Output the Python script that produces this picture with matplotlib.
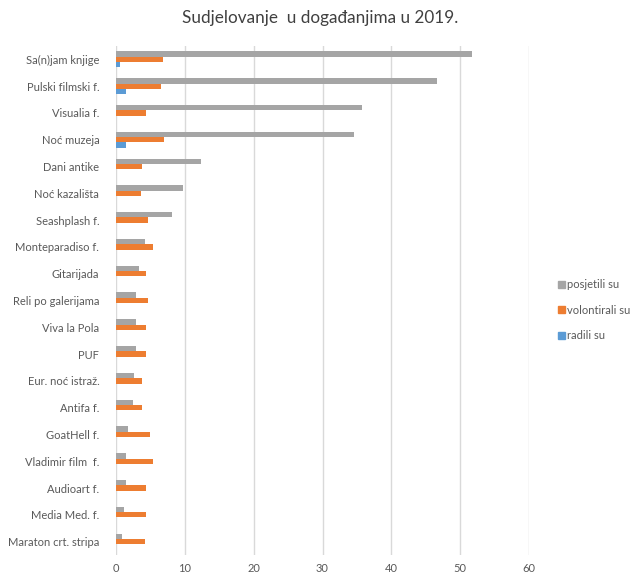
import numpy as np
import matplotlib.pyplot as plt
from matplotlib.patches import Patch

# kategorije (odozgo prema dolje)
dogadanja = ["Sa(n)jam knjige", "Pulski filmski f.", "Visualia f.", "Noć muzeja",
             "Dani antike", "Noć kazališta", "Seashplash f.", "Monteparadiso f.",
             "Gitarijada", "Reli po galerijama", "Viva la Pola", "PUF",
             "Eur. noć istraž.", "Antifa f.", "GoatHell f.", "Vladimir film  f.",
             "Audioart f.", "Media Med. f.", "Maraton crt. stripa"]

posjetili = [51.7, 46.6, 35.8, 34.6, 12.4, 9.8, 8.2, 4.2, 3.4, 2.9, 2.9, 2.9,
             2.6, 2.4, 1.7, 1.5, 1.5, 1.2, 0.8]
volontirali = [6.8, 6.6, 4.4, 7.0, 3.8, 3.6, 4.6, 5.4, 4.3, 4.6, 4.4, 4.3,
               3.8, 3.8, 5.0, 5.4, 4.4, 4.4, 4.2]
radili = [0.6, 1.45, 0, 1.45, 0, 0, 0, 0, 0, 0, 0, 0,
          0, 0, 0, 0, 0, 0, 0]

x_ticks = [0, 10, 20, 30, 40, 50, 60]

plt.rcParams['font.family'] = ['Lato', 'DejaVu Sans']

fig = plt.figure(figsize=(6.33, 5.78), dpi=100)
ax = fig.add_axes([116 / 633, 1 - 555 / 578, (529 - 116) / 633, 509 / 578])

n = len(dogadanja)
y = np.arange(n)[::-1]
h = 0.2
ax.barh(y + h, posjetili, height=h, color="#a5a5a5")
ax.barh(y, volontirali, height=h, color="#ed7d31")
ax.barh(y - h, radili, height=h, color="#5b9bd5")

ax.set_xlim(0, 60)
ax.set_ylim(-0.5, n - 0.5)
ax.set_xticks(x_ticks)
ax.set_yticks(y)
ax.set_yticklabels(dogadanja)
ax.tick_params(axis="both", length=0, labelsize=8, colors="#595959")
ax.tick_params(axis="y", pad=12)
ax.tick_params(axis="x", pad=6)
ax.grid(axis="x", color="#d9d9d9", linewidth=1)
ax.set_axisbelow(True)
for s in ax.spines.values():
    s.set_visible(False)

fig.text(0.505, 1 - 18 / 578, "Sudjelovanje  u događanjima u 2019.", ha="center",
         va="center", fontsize=12.3, color="#404040")

handles = [Patch(color="#a5a5a5", label="posjetili su"),
           Patch(color="#ed7d31", label="volontirali su"),
           Patch(color="#5b9bd5", label="radili su")]
fig.legend(handles=handles, loc="center left", bbox_to_anchor=(548 / 633, 1 - 310 / 578),
           frameon=False, fontsize=8, handlelength=0.6, handleheight=0.6,
           handletextpad=0.2, labelspacing=1.3, labelcolor="#595959")

fig.savefig("out.png", dpi=100)
